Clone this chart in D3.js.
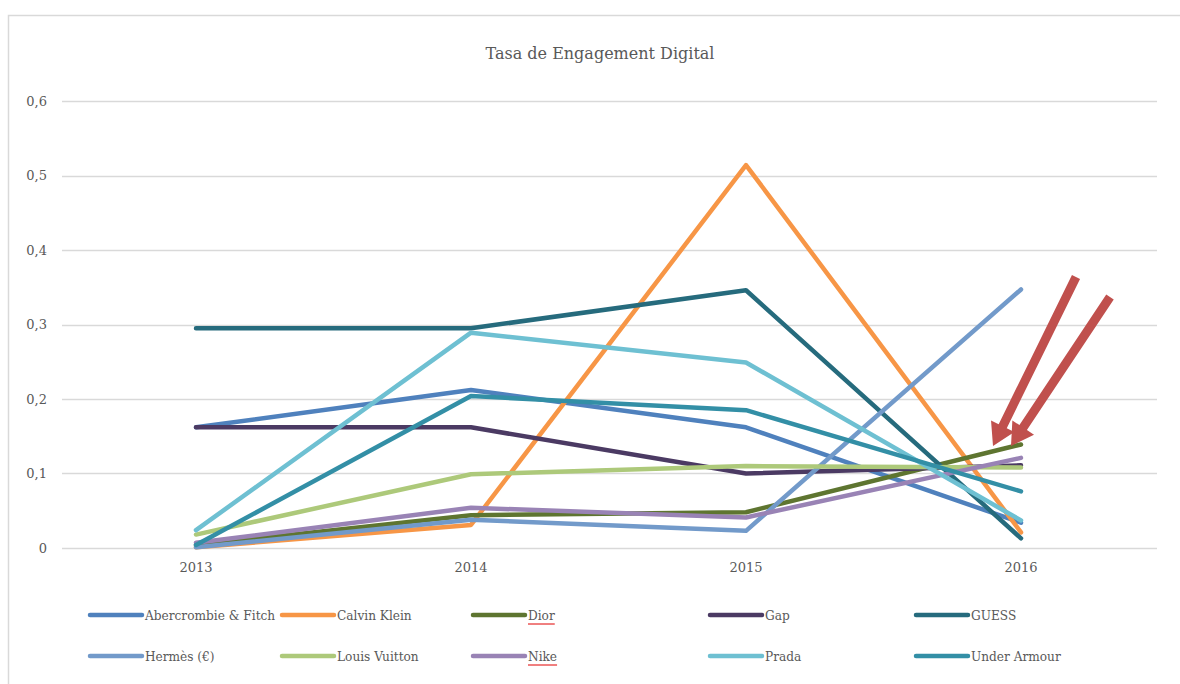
<!DOCTYPE html>
<html>
<head>
<meta charset="utf-8">
<script src="https://cdn.jsdelivr.net/npm/d3@7"></script>
<style>
  body { margin: 0; background: #fff; }
  svg text { font-family: "DejaVu Serif", "Liberation Serif", serif; fill: #595959; }
  svg text.legend { font-family: "DejaVu Serif Condensed", "DejaVu Serif", serif; font-stretch: condensed; }
</style>
</head>
<body>
<svg width="1180" height="684"></svg>
<script>
// chart data
var years = ["2013", "2014", "2015", "2016"];
var brands = ["Abercrombie & Fitch", "Calvin Klein", "Dior", "Gap", "GUESS",
              "Hermès (€)", "Louis Vuitton", "Nike", "Prada", "Under Armour"];
var abercrombie = [0.162, 0.212, 0.162, 0.034];
var calvinKlein = [0.001, 0.031, 0.514, 0.021];
var dior = [0.004, 0.044, 0.048, 0.139];
var gap = [0.162, 0.162, 0.1, 0.111];
var guess = [0.295, 0.295, 0.346, 0.013];
var hermes = [0.001, 0.038, 0.023, 0.347];
var louisVuitton = [0.018, 0.099, 0.11, 0.108];
var nike = [0.007, 0.054, 0.041, 0.121];
var prada = [0.024, 0.289, 0.249, 0.037];
var underArmour = [0.004, 0.204, 0.185, 0.076];
var yTicks = [0, 0.1, 0.2, 0.3, 0.4, 0.5, 0.6];
var colors = ["#4F81BD", "#F79646", "#5E7530", "#4B3A63", "#266B7D",
              "#729ACA", "#ADC97A", "#9983B5", "#6EC0D2", "#338FA6"];

var seriesValues = [abercrombie, calvinKlein, dior, gap, guess,
                    hermes, louisVuitton, nike, prada, underArmour];
var series = brands.map(function(b, i){
  return {name: b, color: colors[i], values: seriesValues[i]};
});

var svg = d3.select("svg");

// outer frame (only left and top visible)
svg.append("path")
  .attr("d", "M8.5,684 V15.5 H1180")
  .attr("fill", "none")
  .attr("stroke", "#D9D9D9")
  .attr("stroke-width", 1.5);

var x = d3.scaleBand().domain(years).range([58.5, 1158.5]);
var y = d3.scaleLinear().domain([0, 0.6]).range([548, 101]);
var fmt = function(v){ return v === 0 ? "0" : d3.format(".1f")(v).replace(".", ","); };

// gridlines
svg.append("g").selectAll("line").data(yTicks).enter()
  .append("line")
  .attr("x1", 62).attr("x2", 1157)
  .attr("y1", function(d){ return Math.round(y(d)) + 0.5; })
  .attr("y2", function(d){ return Math.round(y(d)) + 0.5; })
  .attr("stroke", "#D9D9D9")
  .attr("stroke-width", 1.3);

// y labels
svg.append("g").selectAll("text").data(yTicks).enter()
  .append("text")
  .attr("x", 47)
  .attr("y", function(d){ return y(d) + 4.5; })
  .attr("text-anchor", "end")
  .style("font-size", "13px")
  .text(fmt);

// x labels
svg.append("g").selectAll("text").data(years).enter()
  .append("text")
  .attr("x", function(d){ return x(d) + x.bandwidth() / 2; })
  .attr("y", 572)
  .attr("text-anchor", "middle")
  .style("font-size", "13px")
  .text(function(d){ return d; });

// title
svg.append("text")
  .attr("x", 600).attr("y", 59)
  .attr("text-anchor", "middle")
  .style("font-size", "16px")
  .text("Tasa de Engagement Digital");

// lines
var line = d3.line()
  .x(function(d, i){ return x(years[i]) + x.bandwidth() / 2; })
  .y(function(d){ return y(d); });

svg.append("g").selectAll("path").data(series).enter()
  .append("path")
  .attr("d", function(d){ return line(d.values); })
  .attr("fill", "none")
  .attr("stroke", function(d){ return d.color; })
  .attr("stroke-width", 4.5)
  .attr("stroke-linecap", "round")
  .attr("stroke-linejoin", "round");

// red arrows pointing at the 2016 end
var x16 = x("2016") + x.bandwidth() / 2;
var arrows = [
  {x1: x16 + 55, y1: 277, x2: x16 - 28, y2: y(0.137)},
  {x1: x16 + 89, y1: 297, x2: x16 - 10, y2: y(0.137)}
];
arrows.forEach(function(a){
  var dx = a.x2 - a.x1, dy = a.y2 - a.y1;
  var len = Math.sqrt(dx * dx + dy * dy);
  var ux = dx / len, uy = dy / len, px = -uy, py = ux;
  var hl = 22, hw = 13, sw = 4.5;
  var bx = a.x2 - ux * hl, by = a.y2 - uy * hl;
  var pts = [
    [a.x1 + px * sw, a.y1 + py * sw],
    [bx + px * sw, by + py * sw],
    [bx + px * hw, by + py * hw],
    [a.x2, a.y2],
    [bx - px * hw, by - py * hw],
    [bx - px * sw, by - py * sw],
    [a.x1 - px * sw, a.y1 - py * sw]
  ];
  svg.append("polygon")
    .attr("points", pts.map(function(p){ return p.join(","); }).join(" "))
    .attr("fill", "#C0504D");
});

// legend
var legendX = [90, 282, 473, 710, 916];
var legendY = [615, 656];
var lg = svg.append("g").selectAll("g").data(series).enter()
  .append("g")
  .attr("transform", function(d, i){
    return "translate(" + legendX[i % 5] + "," + legendY[Math.floor(i / 5)] + ")";
  });
lg.append("line")
  .attr("x1", 0).attr("x2", 52)
  .attr("stroke", function(d){ return d.color; })
  .attr("stroke-width", 4.5)
  .attr("stroke-linecap", "round");
lg.append("text")
  .attr("class", "legend")
  .attr("x", 55).attr("y", 5)
  .style("font-size", "13.5px")
  .text(function(d){ return d.name; });

// red spell-check underline under Dior and Nike
lg.filter(function(d){ return d.name === "Dior" || d.name === "Nike"; })
  .append("line")
  .attr("x1", 55)
  .attr("x2", function(){ return 55 + this.parentNode.querySelector("text").getComputedTextLength(); })
  .attr("y1", 9).attr("y2", 9)
  .attr("stroke", "#E00000")
  .attr("stroke-width", 1);
</script>
</body>
</html>
